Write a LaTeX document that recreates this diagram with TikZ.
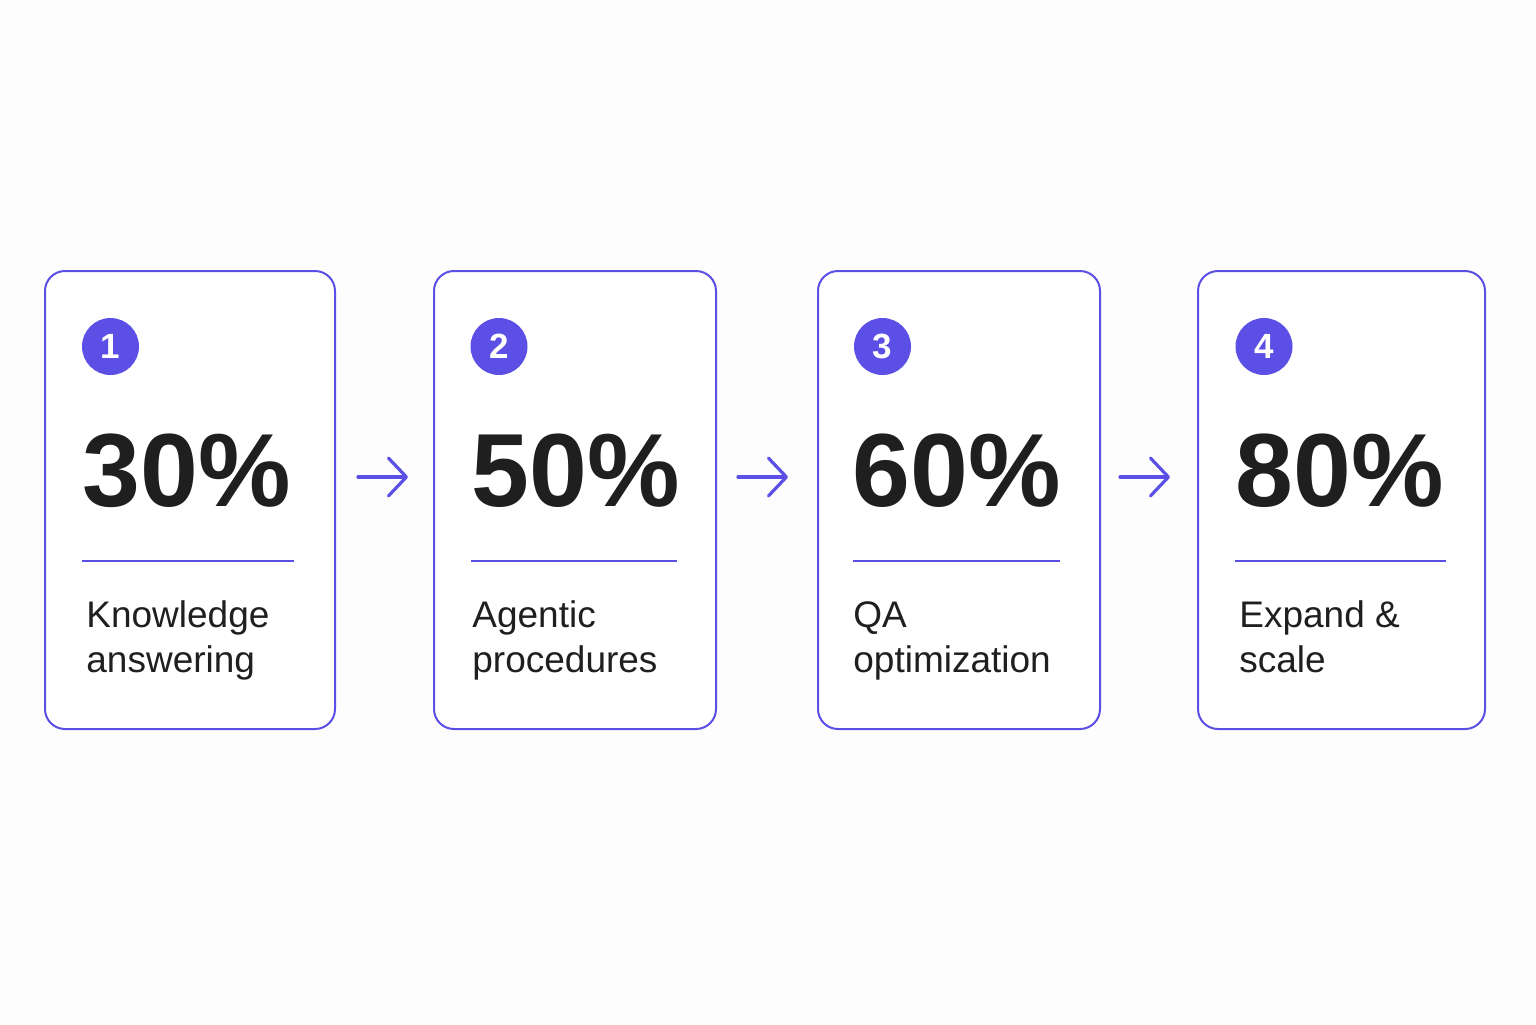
\documentclass[tikz,border=0pt]{standalone}
\usepackage{fontspec}
\setmainfont{Liberation Sans}
\usetikzlibrary{arrows.meta}
\definecolor{accent}{HTML}{5B4FE6}
\definecolor{ink}{HTML}{1F1F1F}
\definecolor{bg}{HTML}{FDFDFD}
\tikzset{
  card/.style={draw=accent, line width=1pt, rounded corners=10pt, fill=white, minimum height=229pt, inner sep=0pt},
  badge/.style={circle, fill=accent, minimum size=28.5pt, inner sep=0pt, text=white, font=\fontsize{17.5}{17.5}\selectfont\bfseries},
  bignum/.style={anchor=base west, inner sep=0pt, text=ink, font=\fontsize{52}{52}\selectfont\bfseries},
  desc/.style={anchor=base west, inner sep=0pt, text=ink, align=left, font=\fontsize{18.5}{22.5}\selectfont},
  rule/.style={draw=accent, line width=0.8pt},
  flow/.style={draw=accent, line width=1.6pt, line cap=round, -{Straight Barb[length=9pt,width=19pt,line cap=round, line join=round]}},
}
\begin{document}
\begin{tikzpicture}[x=0.5pt,y=-0.5pt]
\fill[bg] (0,0) rectangle (1536,1024);
\useasboundingbox (0,0) rectangle (1536,1024);
% cards
\node[card, minimum width=145pt] (c1) at (190,500) {};
\node[card, minimum width=141pt] (c2) at (575,500) {};
\node[card, minimum width=141pt] (c3) at (959,500) {};
\node[card, minimum width=143.5pt] (c4) at (1341.5,500) {};
% badges
\node[badge] (b1) at (110.5,346.5) {1};
\node[badge] (b2) at (499,346.5) {2};
\node[badge] (b3) at (882.5,346.5) {3};
\node[badge] (b4) at (1264,346.5) {4};
% big numbers
\node[bignum] (n1) at (82,506) {30\%};
\node[bignum] (n2) at (471,506) {50\%};
\node[bignum] (n3) at (852,506) {60\%};
\node[bignum] (n4) at (1235,506) {80\%};
% rules
\coordinate (r1a) at (82,561); \coordinate (r1b) at (294,561);
\coordinate (r2a) at (471,561); \coordinate (r2b) at (677,561);
\coordinate (r3a) at (853,561); \coordinate (r3b) at (1060,561);
\coordinate (r4a) at (1235,561); \coordinate (r4b) at (1446,561);
\draw[rule] (r1a) -- (r1b);
\draw[rule] (r2a) -- (r2b);
\draw[rule] (r3a) -- (r3b);
\draw[rule] (r4a) -- (r4b);
% descriptions
\node[desc] (d1) at (86,672) {Knowledge\\answering};
\node[desc] (d2) at (472,672) {Agentic\\procedures};
\node[desc] (d3) at (853,672) {QA\\optimization};
\node[desc] (d4) at (1239,672) {Expand \&\\scale};
% arrows
\draw[flow, shorten <=11pt, shorten >=12.5pt] ([yshift=11.5pt]c1.east) -- ([yshift=11.5pt]c2.west);
\draw[flow, shorten <=10.5pt, shorten >=14.5pt] ([yshift=11.5pt]c2.east) -- ([yshift=11.5pt]c3.west);
\draw[flow, shorten <=9.5pt, shorten >=13.5pt] ([yshift=11.5pt]c3.east) -- ([yshift=11.5pt]c4.west);
\end{tikzpicture}
\end{document}
